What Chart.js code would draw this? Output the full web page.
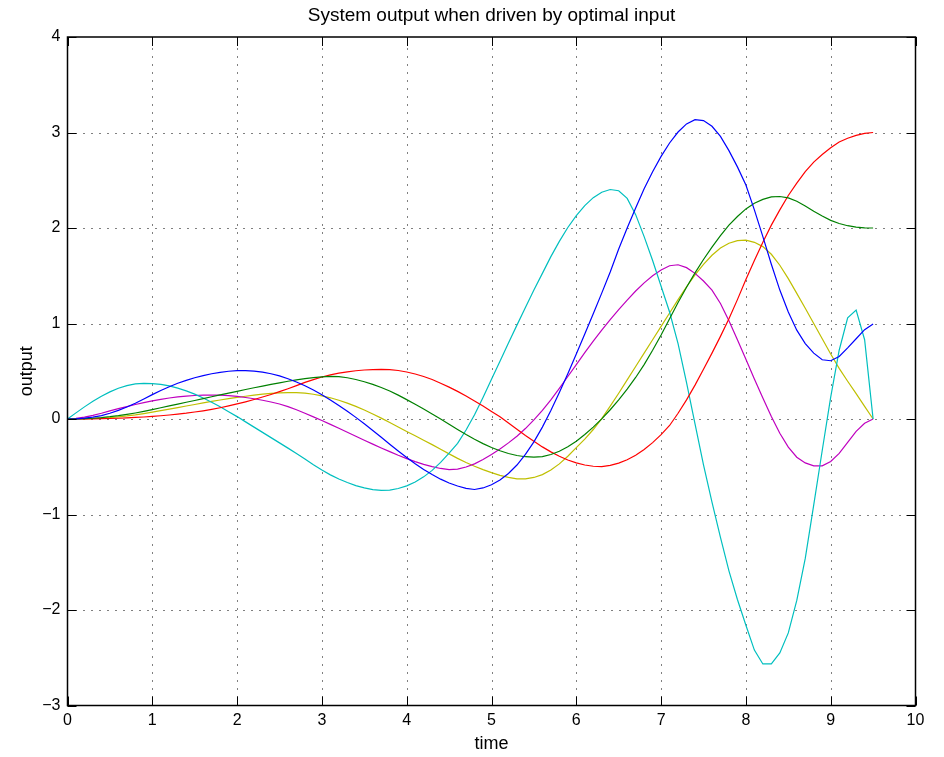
<!DOCTYPE html>
<html>
<head>
<meta charset="utf-8">
<title>System output when driven by optimal input</title>
<script src="https://cdn.jsdelivr.net/npm/chart.js@4.4.1/dist/chart.umd.min.js"></script>
<style>
  html, body { margin: 0; padding: 0; background: #fff; }
  #box { position: relative; width: 944px; height: 757px; }
</style>
</head>
<body>
<div id="box"><canvas id="outChart"></canvas></div>
<script>
Chart.defaults.font.family = "'Liberation Sans', Arial, Helvetica, sans-serif";
Chart.defaults.color = "#000";

// sample times, step 0.1 from 0 to 9.5
const time = [
  0, 0.1, 0.2, 0.3, 0.4, 0.5, 0.6, 0.7, 0.8, 0.9,
  1, 1.1, 1.2, 1.3, 1.4, 1.5, 1.6, 1.7, 1.8, 1.9,
  2, 2.1, 2.2, 2.3, 2.4, 2.5, 2.6, 2.7, 2.8, 2.9,
  3, 3.1, 3.2, 3.3, 3.4, 3.5, 3.6, 3.7, 3.8, 3.9,
  4, 4.1, 4.2, 4.3, 4.4, 4.5, 4.6, 4.7, 4.8, 4.9,
  5, 5.1, 5.2, 5.3, 5.4, 5.5, 5.6, 5.7, 5.8, 5.9,
  6, 6.1, 6.2, 6.3, 6.4, 6.5, 6.6, 6.7, 6.8, 6.9,
  7, 7.1, 7.2, 7.3, 7.4, 7.5, 7.6, 7.7, 7.8, 7.9,
  8, 8.1, 8.2, 8.3, 8.4, 8.5, 8.6, 8.7, 8.8, 8.9,
  9, 9.1, 9.2, 9.3, 9.4, 9.5
];

const blueOut = [
  0, 0.002, 0.009, 0.020, 0.036, 0.060, 0.090, 0.125, 0.165, 0.210,
  0.255, 0.298, 0.338, 0.374, 0.405, 0.432, 0.455, 0.474, 0.489, 0.500,
  0.506, 0.507, 0.502, 0.491, 0.474, 0.451, 0.422, 0.388, 0.348, 0.303,
  0.254, 0.200, 0.142, 0.081, 0.017, -0.050, -0.120, -0.192, -0.264, -0.335,
  -0.403, -0.468, -0.528, -0.582, -0.630, -0.670, -0.702, -0.726, -0.738, -0.722,
  -0.688, -0.638, -0.570, -0.482, -0.370, -0.240, -0.085, 0.090, 0.278, 0.475,
  0.680, 0.890, 1.103, 1.318, 1.540, 1.780, 2.000, 2.210, 2.410, 2.590,
  2.750, 2.890, 3.005, 3.090, 3.135, 3.125, 3.065, 2.960, 2.810, 2.640,
  2.450, 2.190, 1.910, 1.620, 1.350, 1.120, 0.930, 0.790, 0.690, 0.620,
  0.610, 0.655, 0.745, 0.840, 0.935, 0.995
];

const greenOut = [
  0, 0.001, 0.003, 0.008, 0.015, 0.024, 0.035, 0.048, 0.063, 0.080,
  0.099, 0.118, 0.137, 0.156, 0.175, 0.194, 0.213, 0.233, 0.252, 0.271,
  0.290, 0.309, 0.327, 0.345, 0.362, 0.379, 0.395, 0.410, 0.423, 0.434,
  0.442, 0.446, 0.443, 0.432, 0.414, 0.390, 0.362, 0.330, 0.293, 0.250,
  0.203, 0.155, 0.105, 0.053, 0.000, -0.055, -0.110, -0.163, -0.213, -0.258,
  -0.298, -0.333, -0.361, -0.382, -0.395, -0.400, -0.393, -0.372, -0.337, -0.290,
  -0.232, -0.163, -0.085, 0.002, 0.097, 0.200, 0.312, 0.435, 0.570, 0.720,
  0.880, 1.050, 1.220, 1.380, 1.530, 1.670, 1.800, 1.920, 2.030, 2.120,
  2.200, 2.260, 2.300, 2.325, 2.330, 2.315, 2.280, 2.230, 2.175, 2.125,
  2.080, 2.047, 2.024, 2.010, 2.002, 2.000
];

const redOut = [
  0, 0, 0.001, 0.002, 0.003, 0.005, 0.008, 0.012, 0.016, 0.021,
  0.027, 0.034, 0.042, 0.051, 0.061, 0.073, 0.086, 0.101, 0.118, 0.137,
  0.158, 0.180, 0.204, 0.230, 0.257, 0.286, 0.317, 0.350, 0.383, 0.413,
  0.440, 0.462, 0.480, 0.494, 0.505, 0.513, 0.518, 0.520, 0.517, 0.508,
  0.492, 0.471, 0.445, 0.413, 0.375, 0.334, 0.289, 0.240, 0.188, 0.135,
  0.079, 0.023, -0.041, -0.107, -0.172, -0.234, -0.292, -0.344, -0.390, -0.429,
  -0.460, -0.482, -0.495, -0.498, -0.485, -0.462, -0.427, -0.380, -0.320, -0.247,
  -0.163, -0.068, 0.060, 0.200, 0.355, 0.520, 0.690, 0.865, 1.050, 1.250,
  1.460, 1.660, 1.850, 2.030, 2.190, 2.340, 2.470, 2.590, 2.690, 2.770,
  2.840, 2.900, 2.940, 2.970, 2.990, 3.000
];

const cyanOut = [
  0, 0.064, 0.127, 0.185, 0.238, 0.284, 0.322, 0.350, 0.367, 0.374,
  0.371, 0.362, 0.346, 0.323, 0.294, 0.260, 0.220, 0.176, 0.128, 0.077,
  0.025, -0.030, -0.085, -0.140, -0.195, -0.250, -0.305, -0.360, -0.420, -0.480,
  -0.535, -0.585, -0.628, -0.665, -0.697, -0.722, -0.740, -0.748, -0.745, -0.728,
  -0.700, -0.660, -0.606, -0.538, -0.455, -0.358, -0.255, -0.115, 0.045, 0.225,
  0.415, 0.605, 0.795, 0.983, 1.168, 1.350, 1.525, 1.700, 1.860, 2.005,
  2.130, 2.235, 2.318, 2.375, 2.403, 2.390, 2.310, 2.140, 1.910, 1.660,
  1.390, 1.120, 0.790, 0.380, -0.050, -0.480, -0.870, -1.240, -1.590, -1.890,
  -2.160, -2.420, -2.565, -2.565, -2.450, -2.240, -1.900, -1.460, -0.900, -0.330,
  0.230, 0.720, 1.060, 1.140, 0.830, 0
];

const magentaOut = [
  0, 0.006, 0.020, 0.038, 0.060, 0.085, 0.108, 0.130, 0.152, 0.172,
  0.190, 0.206, 0.220, 0.231, 0.240, 0.246, 0.250, 0.251, 0.249, 0.244,
  0.236, 0.225, 0.212, 0.196, 0.178, 0.157, 0.130, 0.097, 0.060, 0.022,
  -0.016, -0.056, -0.097, -0.138, -0.180, -0.222, -0.263, -0.303, -0.342, -0.380,
  -0.415, -0.447, -0.475, -0.498, -0.518, -0.530, -0.524, -0.503, -0.470, -0.425,
  -0.372, -0.315, -0.250, -0.180, -0.100, -0.010, 0.090, 0.200, 0.320, 0.445,
  0.570, 0.695, 0.815, 0.930, 1.040, 1.145, 1.245, 1.340, 1.425, 1.500,
  1.560, 1.605, 1.615, 1.585, 1.525, 1.445, 1.350, 1.210, 1.030, 0.830,
  0.625, 0.420, 0.220, 0.025, -0.150, -0.295, -0.400, -0.460, -0.490, -0.490,
  -0.445, -0.360, -0.245, -0.130, -0.045, 0
];

const yellowOut = [
  0, 0, 0.002, 0.005, 0.009, 0.015, 0.023, 0.032, 0.043, 0.057,
  0.072, 0.088, 0.104, 0.120, 0.136, 0.152, 0.168, 0.184, 0.199, 0.213,
  0.226, 0.238, 0.250, 0.260, 0.268, 0.274, 0.277, 0.276, 0.270, 0.259,
  0.243, 0.222, 0.196, 0.166, 0.132, 0.094, 0.053, 0.009, -0.036, -0.083,
  -0.130, -0.176, -0.222, -0.268, -0.316, -0.365, -0.412, -0.455, -0.495, -0.530,
  -0.562, -0.590, -0.612, -0.626, -0.627, -0.612, -0.582, -0.535, -0.470, -0.390,
  -0.300, -0.210, -0.110, 0.005, 0.135, 0.270, 0.410, 0.550, 0.690, 0.830,
  0.970, 1.110, 1.250, 1.385, 1.510, 1.620, 1.715, 1.790, 1.840, 1.868,
  1.872, 1.850, 1.805, 1.725, 1.610, 1.470, 1.315, 1.160, 1.000, 0.840,
  0.680, 0.530, 0.395, 0.265, 0.132, 0
];

const xTicks = [0, 1, 2, 3, 4, 5, 6, 7, 8, 9, 10];
const xTickLabels = ["0", "1", "2", "3", "4", "5", "6", "7", "8", "9", "10"];
const yTicks = [-3, -2, -1, 0, 1, 2, 3, 4];
const yTickLabels = ["\u22123", "\u22122", "\u22121", "0", "1", "2", "3", "4"];

// matlab default line order
const series = [
  { values: blueOut, color: "#0000ff" },
  { values: greenOut, color: "#008000" },
  { values: redOut, color: "#ff0000" },
  { values: cyanOut, color: "#00bfbf" },
  { values: magentaOut, color: "#bf00bf" },
  { values: yellowOut, color: "#bfbf00" }
];

function points(values){
  return time.map((t, i) => ({ x: t, y: values[i] }));
}

// dotted grid under the lines, inward ticks + black box on top
const matlabFrame = {
  id: "matlabFrame",
  beforeDatasetsDraw(chart){
    const { ctx, chartArea: a, scales: { x, y } } = chart;
    ctx.save();
    ctx.strokeStyle = "#000";
    ctx.lineWidth = 1;
    ctx.setLineDash([1, 7]);
    xTicks.forEach(v => {
      if (v <= x.min || v >= x.max) return;
      const px = Math.round(x.getPixelForValue(v)) + 0.5;
      ctx.beginPath();
      ctx.moveTo(px, a.bottom);
      ctx.lineTo(px, a.top);
      ctx.stroke();
    });
    yTicks.forEach(v => {
      if (v <= y.min || v >= y.max) return;
      const py = Math.round(y.getPixelForValue(v)) + 0.5;
      ctx.beginPath();
      ctx.moveTo(a.left, py);
      ctx.lineTo(a.right, py);
      ctx.stroke();
    });
    ctx.restore();
  },
  afterDatasetsDraw(chart){
    const { ctx, chartArea: a, scales: { x, y } } = chart;
    const len = 9;
    ctx.save();
    ctx.strokeStyle = "#000";
    ctx.lineWidth = 1;
    ctx.beginPath();
    xTicks.forEach(v => {
      const px = Math.round(x.getPixelForValue(v)) + 0.5;
      ctx.moveTo(px, a.bottom); ctx.lineTo(px, a.bottom - len);
      ctx.moveTo(px, a.top); ctx.lineTo(px, a.top + len);
    });
    yTicks.forEach(v => {
      const py = Math.round(y.getPixelForValue(v)) + 0.5;
      ctx.moveTo(a.left, py); ctx.lineTo(a.left + len, py);
      ctx.moveTo(a.right, py); ctx.lineTo(a.right - len, py);
    });
    ctx.stroke();
    ctx.lineWidth = 1.5;
    ctx.strokeRect(a.left, a.top, a.right - a.left, a.bottom - a.top);
    ctx.restore();
  }
};

new Chart(document.getElementById("outChart"), {
  type: "line",
  data: {
    datasets: series.map(s => ({
      data: points(s.values),
      borderColor: s.color,
      backgroundColor: s.color,
      borderWidth: 1.2,
      pointRadius: 0,
      tension: 0,
      fill: false
    }))
  },
  options: {
    responsive: true,
    maintainAspectRatio: false,
    animation: false,
    layout: { padding: { right: 28.5 } },
    plugins: {
      legend: { display: false },
      tooltip: { enabled: false },
      title: {
        display: true,
        fullSize: false, // center over the plot box, like matlab
        text: "System output when driven by optimal input",
        color: "#000",
        font: { size: 19, weight: "normal" },
        padding: { top: 4, bottom: 10.2 }
      }
    },
    scales: {
      x: {
        type: "linear",
        min: 0,
        max: 10,
        afterBuildTicks: s => { s.ticks = xTicks.map(v => ({ value: v })); },
        afterFit: s => { s.height = 51.5; },
        grid: { display: false, drawTicks: false },
        border: { display: false },
        ticks: {
          color: "#000",
          font: { size: 16 },
          padding: 5,
          maxRotation: 0,
          autoSkip: false,
          callback: (v, i) => xTickLabels[i]
        },
        title: {
          display: true,
          text: "time",
          color: "#000",
          font: { size: 18 },
          padding: { top: 0, bottom: 2 }
        }
      },
      y: {
        type: "linear",
        min: -3,
        max: 4,
        afterBuildTicks: s => { s.ticks = yTicks.map(v => ({ value: v })); },
        afterFit: s => { s.width = 67.5; },
        grid: { display: false, drawTicks: false },
        border: { display: false },
        ticks: {
          color: "#000",
          font: { size: 16 },
          padding: 7,
          autoSkip: false,
          callback: (v, i) => yTickLabels[i]
        },
        title: {
          display: true,
          text: "output",
          color: "#000",
          font: { size: 18 },
          padding: { top: 16, bottom: 0 }
        }
      }
    }
  },
  plugins: [matlabFrame]
});
</script>
</body>
</html>
